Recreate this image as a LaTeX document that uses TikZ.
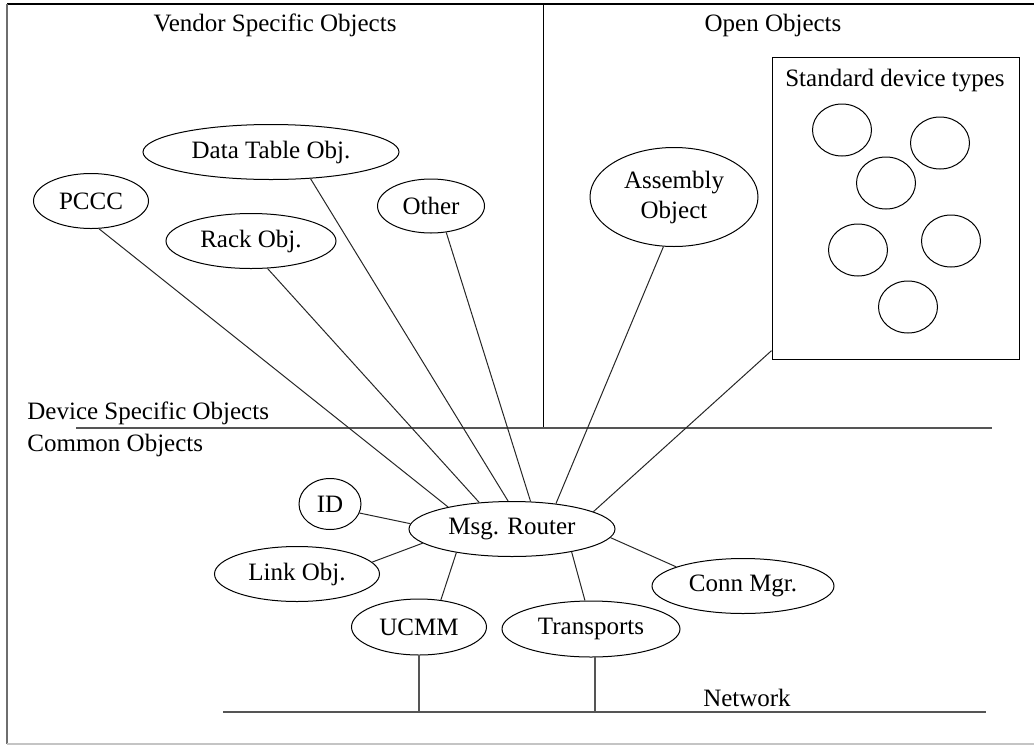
\documentclass[tikz,border=0pt]{standalone}
\usepackage{fontspec}
\setmainfont{Liberation Serif}
\usetikzlibrary{shapes.geometric}
\definecolor{rulegray}{HTML}{555555}
\definecolor{frameleft}{HTML}{6E6E6E}
\definecolor{framebot}{HTML}{C4C4C4}
\tikzset{
  objnode/.style={draw, ellipse, line width=0.5pt, inner sep=0pt, font=\fontsize{12.5}{15}\selectfont},
  devnode/.style={draw, ellipse, line width=0.5pt, inner sep=0pt, minimum width=29.5pt, minimum height=26pt},
  lbl/.style={inner sep=0pt, font=\fontsize{12.5}{15}\selectfont},
  wire/.style={line width=0.5pt, draw=black!85},
  divider/.style={line width=0.8pt, draw=rulegray}
}
\begin{document}
\begin{tikzpicture}[x=0.5pt, y=-0.5pt]
  \useasboundingbox (0,0) rectangle (1034,745);
  \draw[line width=0.8pt] (7,4) -- (1034,4);
  \draw[line width=1pt, draw=frameleft] (7,4) -- (7,744);
  \draw[line width=0.6pt, draw=framebot] (7,744) -- (1034,744);

  \coordinate (divtop) at (543,4);
  \coordinate (divmid) at (543,428);
  \coordinate (divL) at (76,428);
  \coordinate (divR) at (992,428);
  \coordinate (netL) at (223,712);
  \coordinate (netR) at (986,712);
  \draw[line width=0.5pt] (divtop) -- (divmid);
  \draw[divider] (divL) -- (divR);
  \draw[divider] (netL) -- (netR);

  \node[lbl] (vendor) at (275,25) {Vendor Specific Objects};
  \node[lbl] (open) at (773,25) {Open Objects};
  \node[lbl, anchor=west] (devspec) at (27,413) {Device Specific Objects};
  \node[lbl, anchor=west] (common) at (27,445) {Common Objects};
  \node[lbl] (network) at (747,698) {Network};

  \node[objnode, minimum width=57.5pt, minimum height=27.5pt] (pccc) at (91,201) {PCCC};
  \node[objnode, minimum width=128pt, minimum height=27.5pt] (datatab) at (271,152) {Data Table Obj.};
  \node[objnode, minimum width=85pt, minimum height=27.5pt] (rack) at (251,241) {Rack Obj.};
  \node[objnode, minimum width=53.5pt, minimum height=27pt] (other) at (431,206) {Other};
  \node[objnode, minimum width=84pt, minimum height=49.5pt, align=center] (assembly) at (674,197) {Assembly\\Object};

  \node[draw, line width=0.5pt, minimum width=123.5pt, minimum height=151pt] (sdt) at (895.5,208) {};
  \node[lbl] (sdtlabel) at (895,81) {Standard device types};
  \node[devnode] (dev1) at (842,130) {};
  \node[devnode] (dev2) at (940,143) {};
  \node[devnode] (dev3) at (886,183) {};
  \node[devnode] (dev4) at (858,250) {};
  \node[devnode] (dev5) at (951,241) {};
  \node[devnode] (dev6) at (908,307) {};

  \node[objnode, minimum width=103pt, minimum height=27.5pt] (router) at (512,529) {Msg. Router};
  \node[objnode, minimum width=31pt, minimum height=25.5pt] (id) at (330,504) {ID};
  \node[objnode, minimum width=82.5pt, minimum height=27.5pt] (link) at (297,574) {Link Obj.};
  \node[objnode, minimum width=67.5pt, minimum height=28pt] (ucmm) at (419,627) {UCMM};
  \node[objnode, minimum width=89pt, minimum height=28pt] (transports) at (591,629) {Transports};
  \node[objnode, minimum width=91pt, minimum height=27.5pt] (connmgr) at (743,586) {Conn Mgr.};

  \draw[wire] (pccc.-74) -- (router.161);
  \draw[wire] (rack.-59) -- (router.141);
  \draw[wire] (datatab.-34) -- (router.98);
  \draw[wire] (other.-60) -- (router.56);
  \draw[wire] (assembly.-102) -- (router.30);
  \draw[wire] (sdt.-131) -- (router.12);
  \draw[wire] (id.-17) -- (router.177);
  \draw[wire] (link.9) -- (router.-171);
  \draw[wire] (ucmm.51) -- (router.-157);
  \draw[wire] (transports.102) -- (router.-21);
  \draw[wire] (connmgr.164) -- (router.-5);
  \draw[divider, line width=0.6pt] (ucmm.south) -- (ucmm.south |- netL);
  \draw[divider, line width=0.6pt] (transports.-82) -- (transports.-82 |- netL);
\end{tikzpicture}
\end{document}
